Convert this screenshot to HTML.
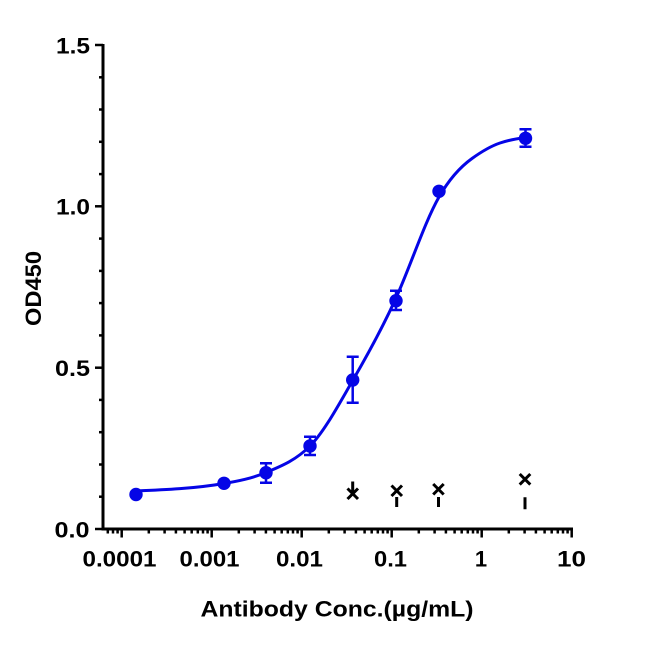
<!DOCTYPE html>
<html>
<head>
<meta charset="utf-8">
<style>
  html, body { margin:0; padding:0; background:#ffffff; }
  svg { display:block; }
  text { font-family: "Liberation Sans", Arial, sans-serif; font-weight: bold; fill:#000; }
</style>
</head>
<body>
<svg width="650" height="649" viewBox="0 0 650 649" xmlns="http://www.w3.org/2000/svg">
  <rect width="650" height="649" fill="#ffffff"/>

  <!-- Axes -->
  <g stroke="#000" stroke-width="3" fill="none" stroke-linecap="butt">
    <line x1="103" y1="44" x2="103" y2="530.5"/>
    <line x1="101.5" y1="529" x2="573" y2="529"/>
  </g>

  <!-- Y ticks -->
  <g stroke="#000" stroke-width="2.5">
    <line x1="95" y1="45" x2="103" y2="45"/>
    <line x1="95" y1="206.3" x2="103" y2="206.3"/>
    <line x1="95" y1="367.7" x2="103" y2="367.7"/>
    <line x1="95" y1="529" x2="103" y2="529"/>
    <line x1="99" y1="77.3" x2="103" y2="77.3"/>
    <line x1="99" y1="109.5" x2="103" y2="109.5"/>
    <line x1="99" y1="141.8" x2="103" y2="141.8"/>
    <line x1="99" y1="174.1" x2="103" y2="174.1"/>
    <line x1="99" y1="238.6" x2="103" y2="238.6"/>
    <line x1="99" y1="270.9" x2="103" y2="270.9"/>
    <line x1="99" y1="303.1" x2="103" y2="303.1"/>
    <line x1="99" y1="335.4" x2="103" y2="335.4"/>
    <line x1="99" y1="399.9" x2="103" y2="399.9"/>
    <line x1="99" y1="432.2" x2="103" y2="432.2"/>
    <line x1="99" y1="464.5" x2="103" y2="464.5"/>
    <line x1="99" y1="496.7" x2="103" y2="496.7"/>
  </g>

  <!-- X ticks -->
  <g stroke="#000" stroke-width="2.5">
    <line x1="121.7" y1="529" x2="121.7" y2="537.5"/>
    <line x1="211.7" y1="529" x2="211.7" y2="537.5"/>
    <line x1="301.7" y1="529" x2="301.7" y2="537.5"/>
    <line x1="391.7" y1="529" x2="391.7" y2="537.5"/>
    <line x1="481.7" y1="529" x2="481.7" y2="537.5"/>
    <line x1="571.7" y1="529" x2="571.7" y2="537.5"/>
    <line x1="107.8" y1="529" x2="107.8" y2="533.5"/>
    <line x1="113" y1="529" x2="113" y2="533.5"/>
    <line x1="117.6" y1="529" x2="117.6" y2="533.5"/>
    <line x1="148.8" y1="529" x2="148.8" y2="533.5"/>
    <line x1="164.6" y1="529" x2="164.6" y2="533.5"/>
    <line x1="175.9" y1="529" x2="175.9" y2="533.5"/>
    <line x1="184.6" y1="529" x2="184.6" y2="533.5"/>
    <line x1="191.7" y1="529" x2="191.7" y2="533.5"/>
    <line x1="197.8" y1="529" x2="197.8" y2="533.5"/>
    <line x1="203" y1="529" x2="203" y2="533.5"/>
    <line x1="207.6" y1="529" x2="207.6" y2="533.5"/>
    <line x1="238.8" y1="529" x2="238.8" y2="533.5"/>
    <line x1="254.6" y1="529" x2="254.6" y2="533.5"/>
    <line x1="265.9" y1="529" x2="265.9" y2="533.5"/>
    <line x1="274.6" y1="529" x2="274.6" y2="533.5"/>
    <line x1="281.7" y1="529" x2="281.7" y2="533.5"/>
    <line x1="287.8" y1="529" x2="287.8" y2="533.5"/>
    <line x1="293" y1="529" x2="293" y2="533.5"/>
    <line x1="297.6" y1="529" x2="297.6" y2="533.5"/>
    <line x1="328.8" y1="529" x2="328.8" y2="533.5"/>
    <line x1="344.6" y1="529" x2="344.6" y2="533.5"/>
    <line x1="355.9" y1="529" x2="355.9" y2="533.5"/>
    <line x1="364.6" y1="529" x2="364.6" y2="533.5"/>
    <line x1="371.7" y1="529" x2="371.7" y2="533.5"/>
    <line x1="377.8" y1="529" x2="377.8" y2="533.5"/>
    <line x1="383" y1="529" x2="383" y2="533.5"/>
    <line x1="387.6" y1="529" x2="387.6" y2="533.5"/>
    <line x1="418.8" y1="529" x2="418.8" y2="533.5"/>
    <line x1="434.6" y1="529" x2="434.6" y2="533.5"/>
    <line x1="445.9" y1="529" x2="445.9" y2="533.5"/>
    <line x1="454.6" y1="529" x2="454.6" y2="533.5"/>
    <line x1="461.7" y1="529" x2="461.7" y2="533.5"/>
    <line x1="467.8" y1="529" x2="467.8" y2="533.5"/>
    <line x1="473" y1="529" x2="473" y2="533.5"/>
    <line x1="477.6" y1="529" x2="477.6" y2="533.5"/>
    <line x1="508.8" y1="529" x2="508.8" y2="533.5"/>
    <line x1="524.6" y1="529" x2="524.6" y2="533.5"/>
    <line x1="535.9" y1="529" x2="535.9" y2="533.5"/>
    <line x1="544.6" y1="529" x2="544.6" y2="533.5"/>
    <line x1="551.7" y1="529" x2="551.7" y2="533.5"/>
    <line x1="557.8" y1="529" x2="557.8" y2="533.5"/>
    <line x1="563" y1="529" x2="563" y2="533.5"/>
    <line x1="567.6" y1="529" x2="567.6" y2="533.5"/>
  </g>

  <!-- Y tick labels -->
  <g font-size="22" text-anchor="end">
    <text x="90" y="53.5" textLength="34" lengthAdjust="spacingAndGlyphs">1.5</text>
    <text x="90" y="214.5" textLength="34" lengthAdjust="spacingAndGlyphs">1.0</text>
    <text x="90" y="376" textLength="35" lengthAdjust="spacingAndGlyphs">0.5</text>
    <text x="89.5" y="537.5" textLength="35" lengthAdjust="spacingAndGlyphs">0.0</text>
  </g>

  <!-- X tick labels -->
  <g font-size="22" text-anchor="middle">
    <text x="119.5" y="566.5" textLength="74" lengthAdjust="spacingAndGlyphs">0.0001</text>
    <text x="209.5" y="566.5" textLength="60" lengthAdjust="spacingAndGlyphs">0.001</text>
    <text x="299.5" y="566.5" textLength="47" lengthAdjust="spacingAndGlyphs">0.01</text>
    <text x="390.5" y="566.5" textLength="33" lengthAdjust="spacingAndGlyphs">0.1</text>
    <text x="481" y="566.5">1</text>
    <text x="571.5" y="566.5" textLength="29" lengthAdjust="spacingAndGlyphs">10</text>
  </g>

  <!-- Axis titles -->
  <text x="337" y="616.5" font-size="22" text-anchor="middle" textLength="273" lengthAdjust="spacingAndGlyphs">Antibody Conc.(µg/mL)</text>
  <text transform="translate(41,288.5) rotate(-90)" x="0" y="0" font-size="22" text-anchor="middle" textLength="75" lengthAdjust="spacingAndGlyphs">OD450</text>

  <!-- Fitted curve -->
  <path fill="none" stroke="#0505e6" stroke-width="3" stroke-linecap="round"
    d="M136,491
       C165.33,489.83 194.67,488.49 224,483.5
       C238,481.12 252,478.38 266,472.5
       C280.67,466.34 295.33,460.67 310,446
       C324.33,431.67 338.67,404.65 353,380
       C367.33,355.35 381.67,329.53 396,298
       C410.33,266.47 424.67,222.08 439,197
       C450,177.75 461,166.42 472,158.5
       C481.33,151.78 490.67,146.17 500,143
       C508.33,140.17 516.67,138.67 525,137.5"/>

  <!-- Blue error bars -->
  <g stroke="#0505e6" stroke-width="2.5" fill="none">
    <path d="M266,463.3 V482.7 M260,463.3 H272 M260,482.7 H272"/>
    <path d="M310,436.7 V455 M304,436.7 H316 M304,455 H316"/>
    <path d="M352.7,356.7 V402.7 M346.7,356.7 H358.7 M346.7,402.7 H358.7"/>
    <path d="M396,290.7 V310 M390,290.7 H402 M390,310 H402"/>
    <path d="M525.5,129.3 V146.7 M519.5,129.3 H531.5 M519.5,146.7 H531.5"/>
  </g>

  <!-- Blue points -->
  <g fill="#0505e6">
    <circle cx="136" cy="494.5" r="6.7"/>
    <circle cx="224" cy="483.3" r="6.7"/>
    <circle cx="266" cy="472.7" r="6.7"/>
    <circle cx="310" cy="446" r="6.7"/>
    <circle cx="352.7" cy="380" r="6.7"/>
    <circle cx="396" cy="300.7" r="6.7"/>
    <circle cx="439" cy="191.3" r="6.7"/>
    <circle cx="525.5" cy="138.3" r="6.7"/>
  </g>

  <!-- Black X series -->
  <g stroke="#000" stroke-width="3" fill="none">
    <path d="M347.5,488.5 L358,499 M358,488.5 L347.5,499 M352.7,481.5 V494"/>
    <path d="M391.5,485.5 L402,496 M402,485.5 L391.5,496 M396.7,497 V507"/>
    <path d="M433.2,484 L443.7,494.5 M443.7,484 L433.2,494.5 M438.5,497 V507"/>
    <path d="M519.7,474 L530.3,484.6 M530.3,474 L519.7,484.6 M525,497.3 V509.3"/>
  </g>
</svg>
</body>
</html>
